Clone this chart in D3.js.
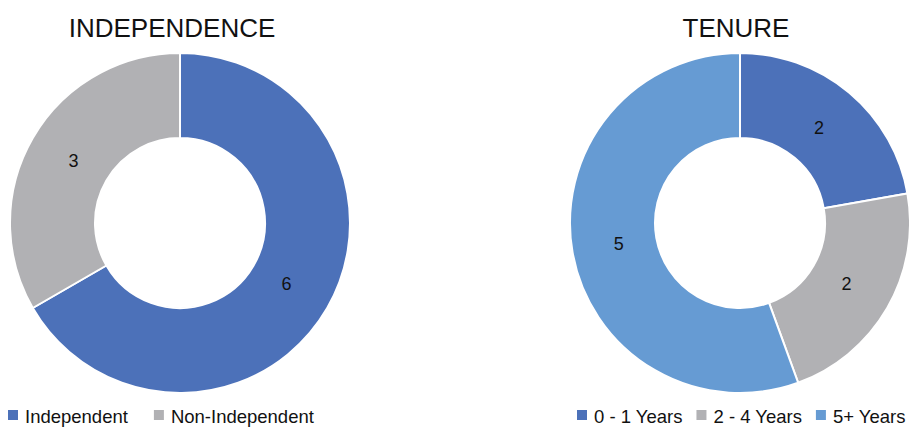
<!DOCTYPE html>
<meta charset="utf-8">
<script src="https://d3js.org/d3.v7.min.js"></script>
<style>
  body { margin: 0; background: #fff; }
  svg text { font-family: "Liberation Sans", Arial, Helvetica, sans-serif; }
</style>
<svg></svg>
<script>

    var width = 909;
    var height = 428;

    // data
    var indepLabels = ["Independent", "Non-Independent"];
    var indepValues = [6, 3];
    var tenureLabels = ["0 - 1 Years", "2 - 4 Years", "5+ Years"];
    var tenureValues = [2, 2, 5];

    var blue = "#4c71b9", grey = "#b1b1b4", lightBlue = "#669bd3";

    var svg = d3.select("svg")
        .attr("width", width)
        .attr("height", height)
        .attr("viewBox", [0, 0, width, height]);

    var charts = [
        {title: "INDEPENDENCE", labels: indepLabels, values: indepValues,
         colors: [blue, grey], cx: 180, titleX: 172, legendX: 8, legendGap: 26},
        {title: "TENURE", labels: tenureLabels, values: tenureValues,
         colors: [blue, grey, lightBlue], cx: 740, titleX: 736, legendX: 577, legendGap: 14}
    ];

    var cy = 223, outerR = 170, innerR = 85, labelR = 123;

    charts.forEach(function(c) {
        var data = c.labels.map((l, i) => ({label: l, value: c.values[i]}));
        var color = d3.scaleOrdinal(c.labels, c.colors);

        var pie = d3.pie().value(d => d.value).sort(null);
        var arc = d3.arc().innerRadius(innerR).outerRadius(outerR);
        var labelArc = d3.arc().innerRadius(labelR).outerRadius(labelR);

        var g = svg.append("g").attr("transform", `translate(${c.cx},${cy})`);

        var arcs = pie(data);

        g.selectAll("path")
            .data(arcs)
            .join("path")
            .attr("d", arc)
            .attr("fill", d => color(d.data.label))
            .attr("stroke", "#fff")
            .attr("stroke-width", 2);

        g.selectAll("text")
            .data(arcs)
            .join("text")
            .attr("transform", d => `translate(${labelArc.centroid(d)})`)
            .attr("text-anchor", "middle")
            .attr("dy", "0.3em")
            .attr("font-size", 18)
            .attr("fill", "#111")
            .text(d => d.data.value);

        svg.append("text")
            .attr("x", c.titleX)
            .attr("y", 37)
            .attr("text-anchor", "middle")
            .attr("font-size", 26)
            .attr("fill", "#111")
            .text(c.title);

        // legend
        var lx = c.legendX;
        var leg = svg.append("g");
        c.labels.forEach(function(l) {
            leg.append("rect")
                .attr("x", lx)
                .attr("y", 410)
                .attr("width", 10)
                .attr("height", 10)
                .attr("fill", color(l));
            var t = leg.append("text")
                .attr("x", lx + 17)
                .attr("y", 423)
                .attr("font-size", 18.5)
                .attr("fill", "#111")
                .text(l);
            lx += 17 + t.node().getComputedTextLength() + c.legendGap;
        });
    });

</script>
